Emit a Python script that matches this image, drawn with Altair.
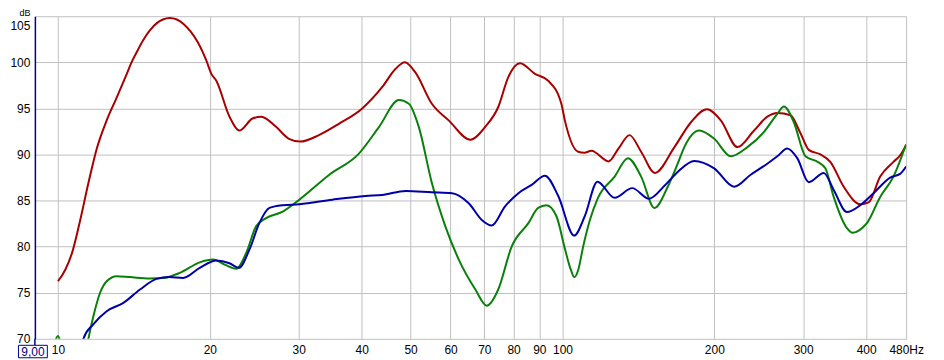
import altair as alt
import pandas as pd

# ---- data ----
red_freq = [10.0, 10.34, 10.66, 11.07, 11.49, 11.94, 12.49, 13.08, 13.69, 13.99, 14.34, 14.74,
            15.21, 15.70, 16.14, 16.66, 17.20, 17.76, 18.33, 18.92, 19.68, 20.14, 20.6, 21.88,
            22.9, 24.3, 25.3, 27.06, 28.7, 30.2, 32.9, 36.1,
            40.1, 43.9, 46.7, 48.7, 51.1, 55.1, 59.5, 65.7, 70.3, 74.6, 78.1, 82.4, 88.2, 93.7,
            99.5, 101.1, 107.4, 110.5, 114.1, 123.5, 129.0, 135.8, 143.2, 152.5, 166.7, 179.8,
            193.3, 206.0, 222.3, 239.8, 254.7, 266.6, 283.1, 296.4, 307.8, 324.6, 339.6, 361.0,
            389.4, 404.4, 426.4, 453.0, 467.0, 480.0]
red_db = [76.25, 77.5, 79.3, 82.9, 86.9, 90.65, 93.7, 96.2, 98.75, 100.0, 101.15, 102.36,
          103.46, 104.25, 104.64, 104.8, 104.64, 104.14, 103.32, 102.2, 100.2, 98.75, 98.0, 94.1,
          92.6, 93.9, 94.1, 93.0, 91.7, 91.4, 92.1, 93.35,
          95.0, 97.3, 99.3, 100.0, 98.9, 95.5, 93.7, 91.6, 93.0, 95.15, 98.4, 99.9, 98.75, 98.0,
          95.5, 93.7, 90.3, 90.2, 90.4, 89.25, 90.6, 92.1, 90.3, 88.0, 90.8, 93.5,
          94.9, 93.7, 90.8, 92.6, 94.1, 94.5, 94.25, 92.3, 90.5, 90.0, 89.2, 86.5,
          84.6, 84.8, 87.6, 89.2, 89.9, 91.0]

green_freq = [9.8, 10.0, 10.2, 10.7, 11.2, 11.49, 11.76, 12.12, 12.49, 13.08, 13.89, 15.2,
              16.16, 17.43, 19.1, 20.3, 21.4, 22.56, 23.6, 24.7, 25.85, 27.9, 30.1, 34.5, 39.5,
              43.3, 47.4, 49.6, 51.9, 55.1, 58.6, 62.3, 67.2, 70.8, 74.6, 79.3, 85.6, 89.5, 93.0,
              97.3, 101.1, 103.9, 105.6, 107.5, 109.9, 113.5, 117.6, 126.9, 134.8, 143.2, 152.2,
              161.7, 169.2, 174.4, 186.7, 199.9, 215.6, 232.6, 250.9, 266.6, 274.8, 287.5, 303.2,
              320.5, 332.0, 344.9, 366.4, 376.0, 388.0, 401.3, 426.4, 453.0, 480.0]
green_db = [69.2, 70.3, 68.8, 64.5, 66.5, 70.0, 72.5, 75.0, 76.25, 76.8, 76.7, 76.55,
            76.6, 77.15, 78.3, 78.6, 78.05, 77.6, 79.3, 82.2, 83.1, 83.8, 85.1, 87.8, 90.1,
            93.0, 95.9, 95.5, 93.0, 86.9, 82.2, 78.6, 75.35, 73.6, 75.35, 80.0, 82.55, 84.2, 84.5,
            83.3, 79.8, 77.5, 76.7, 77.5, 80.0, 83.0, 85.3, 87.6, 89.6, 87.6, 84.2,
            86.5, 89.0, 90.8, 92.6, 91.7, 89.8, 90.8, 92.45, 94.4, 95.2, 93.5, 89.8,
            89.2, 88.5, 85.4, 82.0, 81.5, 81.8, 82.55, 85.4, 87.6, 91.1]

blue_freq = [10.6, 11.0, 11.23, 11.76, 12.49, 13.48, 14.54, 15.68, 16.6, 17.7, 19.1, 20.6,
             21.88, 22.83, 23.97, 25.07, 26.25, 27.9, 30.1, 35.0, 40.7, 43.9, 48.9, 55.1, 60.4,
             65.2, 69.2, 72.4, 76.9, 81.8, 86.9, 92.3, 98.1, 105.5, 110.7, 117.3, 126.9, 137.5,
             148.5, 159.3, 169.2, 182.5, 199.9, 218.9, 236.1, 254.7, 266.6, 279.0, 292.0, 307.8,
             329.6, 344.9, 366.4, 389.4, 413.7, 446.3, 467.0, 480.0]
blue_db = [64.0, 68.0, 70.0, 71.6, 73.0, 73.9, 75.35, 76.5, 76.7, 76.6, 77.7, 78.5,
           78.2, 77.7, 79.7, 82.55, 84.2, 84.5, 84.6, 85.1, 85.5, 85.6, 86.05, 85.9, 85.8,
           84.7, 82.9, 82.3, 84.35, 85.8, 86.7, 87.7, 85.5, 81.2, 83.3, 87.05, 85.3, 86.35,
           85.2, 86.6, 88.1, 89.3, 88.5, 86.5, 87.8, 89.0, 89.8, 90.65, 89.6, 87.0,
           88.0, 86.15, 83.75, 84.5, 85.8, 87.5, 87.9, 88.7]

series_names = ["red", "green", "blue"]
series_colors = ["#a80000", "#0a800a", "#0000a8"]

x_ticks = [10, 20, 30, 40, 50, 60, 70, 80, 90, 100, 200, 300, 400, 480]
y_ticks = [70, 75, 80, 85, 90, 95, 100, 105]
x_domain = [9, 480]
y_domain = [70, 105]
start_label = ["9,00"]

rows = []
for name, fs, ds in zip(series_names, [red_freq, green_freq, blue_freq], [red_db, green_db, blue_db]):
    for f, d in zip(fs, ds):
        rows.append({"series": name, "freq": f, "db": d})
df = pd.DataFrame(rows)

W, H = 875, 324
FONT = "Liberation Sans"
NAVY = "#00008b"
GRID = "#c0c0c0"

x_enc = alt.X(
    "freq:Q",
    scale=alt.Scale(type="log", domain=x_domain, nice=False, zero=False),
    axis=alt.Axis(values=x_ticks, format="d",
                  labelExpr="datum.value == 480 ? '480Hz' : datum.label",
                  title=None, grid=True, gridColor=GRID, domain=False, ticks=False, tickSize=0,
                  labelPadding=6, labelOverlap=False, labelFlush=False, labelFont=FONT,
                  labelFontSize=12, labelColor="black"),
)
y_enc = alt.Y(
    "db:Q",
    scale=alt.Scale(domain=y_domain, nice=False, zero=False),
    axis=alt.Axis(values=y_ticks, format="d", title="dB", titleAngle=0, titleAlign="right",
                  titleBaseline="top", titleX=-5, titleY=-7.5, titleFont=FONT, titleFontSize=9,
                  titleFontWeight="normal", titleColor="black", domainColor=NAVY, domainWidth=1.5,
                  ticks=False, tickSize=0, labelPadding=5, grid=True, gridColor=GRID,
                  labelBaseline={"condition": {"test": "datum.value == 105", "value": "top"},
                                 "value": "middle"},
                  labelOffset={"condition": {"test": "datum.value == 105", "value": 4},
                               "value": 0},
                  labelOverlap=False, labelFlush=False,
                  labelFont=FONT, labelFontSize=12, labelColor="black"),
)
color_enc = alt.Color("series:N", scale=alt.Scale(domain=series_names, range=series_colors), legend=None)

lines = alt.Chart(df).mark_line(strokeWidth=2, interpolate="monotone", clip=True).encode(
    x=x_enc, y=y_enc, color=color_enc, detail="series:N"
)

box_df = pd.DataFrame({"label": start_label})
rule = alt.Chart(box_df).mark_rule(color=NAVY, strokeWidth=1.5).encode(
    x=alt.value(0), y=alt.value(H), y2=alt.value(330.5)
)
rect = alt.Chart(box_df).mark_rect(fill="white", stroke=NAVY, strokeWidth=1).encode(
    x=alt.value(-16.5), x2=alt.value(12.5), y=alt.value(330.5), y2=alt.value(343)
)
text = alt.Chart(box_df).mark_text(font=FONT, fontSize=12, color=NAVY, align="center",
                                   baseline="middle").encode(
    x=alt.value(-2), y=alt.value(337), text="label:N"
)

chart = alt.layer(lines, rule, rect, text).properties(
    width=W, height=H,
    autosize=alt.AutoSizeParams(type="none"),
    padding={"left": 27, "top": 7.5, "right": 30, "bottom": 20},
).configure_view(stroke=None)

chart.save("out.html", embed_options={"renderer": "svg", "actions": False})
